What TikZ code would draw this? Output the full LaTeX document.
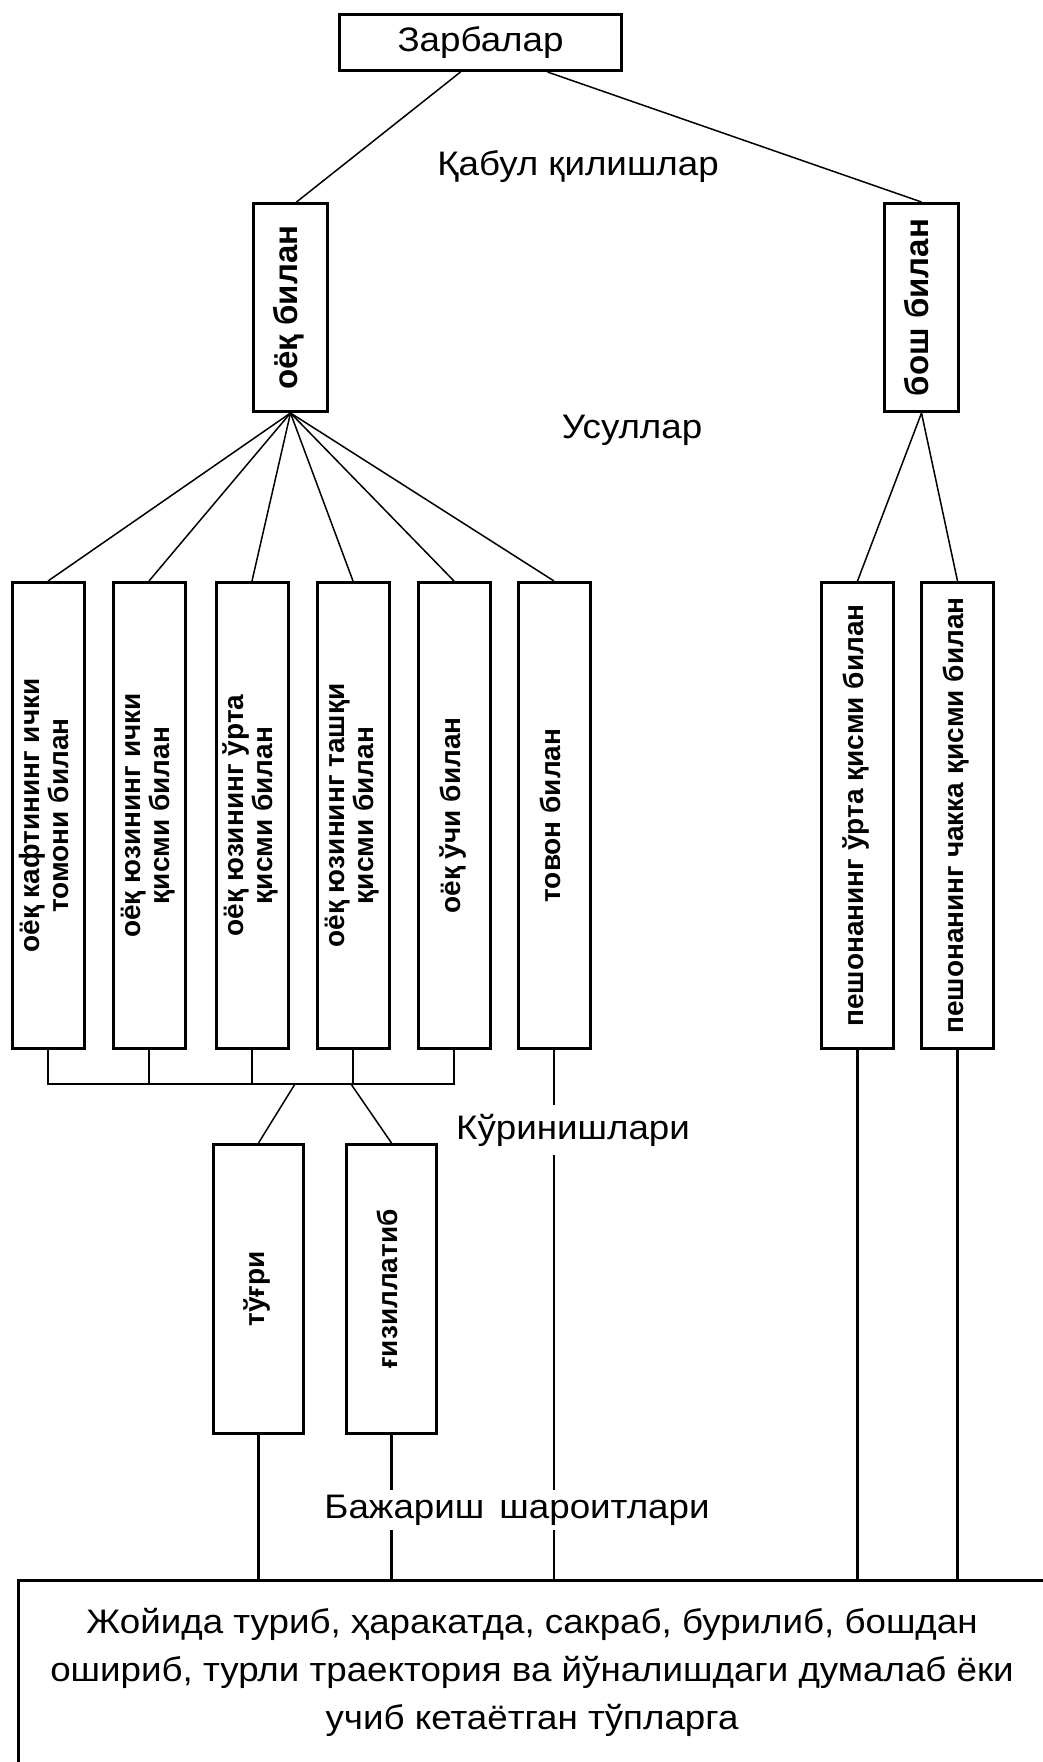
\documentclass[tikz,border=0pt]{standalone}
\usepackage{fontspec}
\setmainfont{Liberation Sans}
\newfontfamily\widefamily[FakeStretch=1.08]{Liberation Sans}
\usepackage{graphicx}
\usepackage{tikz}
\newcommand{\labfont}{\widefamily\fontsize{34}{48}\selectfont}
\newcommand{\boxfont}{\bfseries\fontsize{28}{28}\selectfont}
\newcommand{\bigboxfont}{\bfseries\fontsize{33}{33}\selectfont}
\newcommand{\vlab}[1]{\rotatebox{90}{\begin{tabular}{@{}c@{}}#1\end{tabular}}}
\tikzstyle{box} = [rectangle, draw, line width=3pt, inner sep=0pt]
\tikzstyle{vbox} = [box, minimum width=72pt, minimum height=466pt, font=\boxfont]
\tikzstyle{link} = [line width=2.5pt]
\tikzstyle{fan} = [line width=1.5pt]
\tikzstyle{caption} = [font=\labfont, fill=white, inner xsep=2pt]

\begin{document}
\begin{tikzpicture}[x=1pt, y=-1pt]
    \useasboundingbox (0,0) rectangle (1043,1762);
    \clip (0,0) rectangle (1043,1762);

    % Top
    \node[box, minimum width=282pt, minimum height=56pt, font=\labfont] (zarb) at (480.5,42.5) {Зарбалар};

    % Receptions
    \node[box, minimum width=74pt, minimum height=208pt, font=\bigboxfont] (oyoq) at (290.5,307.5) {\vlab{оёқ билан}};
    \node[box, minimum width=74pt, minimum height=208pt, font=\bigboxfont] (bosh) at (921.5,307.5) {\vlab{бош билан}};

    % Ways with the foot
    \node[vbox] (b1) at (48,815.5) {\vlab{оёқ кафтининг ички\\томони билан}};
    \node[vbox] (b2) at (149,815.5) {\vlab{оёқ юзининг ички\\қисми билан}};
    \node[vbox] (b3) at (252,815.5) {\vlab{оёқ юзининг ўрта\\қисми билан}};
    \node[vbox] (b4) at (353,815.5) {\vlab{оёқ юзининг ташқи\\қисми билан}};
    \node[vbox] (b5) at (454,815.5) {\vlab{оёқ ўчи билан}};
    \node[vbox] (b6) at (554,815.5) {\vlab{товон билан}};

    % Ways with the head
    \node[vbox] (b7) at (857.5,815.5) {\vlab{пешонанинг ўрта қисми билан}};
    \node[vbox] (b8) at (957.5,815.5) {\vlab{пешонанинг чакка қисми билан}};

    % Kinds
    \node[vbox, minimum width=90pt, minimum height=289pt] (turgri) at (258.5,1289) {\vlab{тўғри}};
    \node[vbox, minimum width=90pt, minimum height=289pt] (gizil) at (391.5,1289) {\vlab{ғизиллатиб}};

    % Conditions
    \node[box, minimum width=1100pt, minimum height=260pt, anchor=north west] (cond) at (17,1579) {};
    \node[font=\labfont, align=center] (condtext) at (532,1672) {Жойида туриб, ҳаракатда, сакраб, бурилиб, бошдан\\ошириб, турли траектория ва йўналишдаги думалаб ёки\\учиб кетаётган тўпларга};

    % Lines
    \draw[fan] ([xshift=-20pt]zarb.south) -- ([xshift=6pt]oyoq.north);
    \draw[fan] ([xshift=67pt]zarb.south) -- (bosh.north);
    \draw[fan] (oyoq.south) -- (b1.north);
    \draw[fan] (oyoq.south) -- (b2.north);
    \draw[fan] (oyoq.south) -- (b3.north);
    \draw[fan] (oyoq.south) -- (b4.north);
    \draw[fan] (oyoq.south) -- (b5.north);
    \draw[fan] (oyoq.south) -- (b6.north);
    \draw[fan] (bosh.south) -- (b7.north);
    \draw[fan] (bosh.south) -- (b8.north);

    \coordinate (bar) at (0,1084);
    \coordinate (split1) at (295,1084);
    \coordinate (split2) at (351,1084);
    \draw[link] (b1.south) -- (b1.south |- bar) -- (b5.south |- bar) -- (b5.south);
    \draw[link] (b2.south) -- (b2.south |- bar);
    \draw[link] (b3.south) -- (b3.south |- bar);
    \draw[link] (b4.south) -- (b4.south |- bar);
    \draw[fan] (split1) -- (turgri.north);
    \draw[fan] (split2) -- (gizil.north);

    \draw[link] (b6.south) -- (b6.south |- cond.north);
    \draw[link] (turgri.south) -- (turgri.south |- cond.north);
    \draw[link] (gizil.south) -- (gizil.south |- cond.north);
    \draw[link] (b7.south) -- (b7.south |- cond.north);
    \draw[link] (b8.south) -- (b8.south |- cond.north);

    % Captions
    \node[caption] (qabul) at (578,167) {Қабул қилишлар};
    \node[caption] (usul) at (632,430) {Усуллар};
    \node[caption, inner ysep=9pt] (korin) at (573,1130) {Кўринишлари};
    \node[caption, inner ysep=5pt] (bajar) at (517,1510) {Бажариш\hspace{5pt} шароитлари};
\end{tikzpicture}
\end{document}
